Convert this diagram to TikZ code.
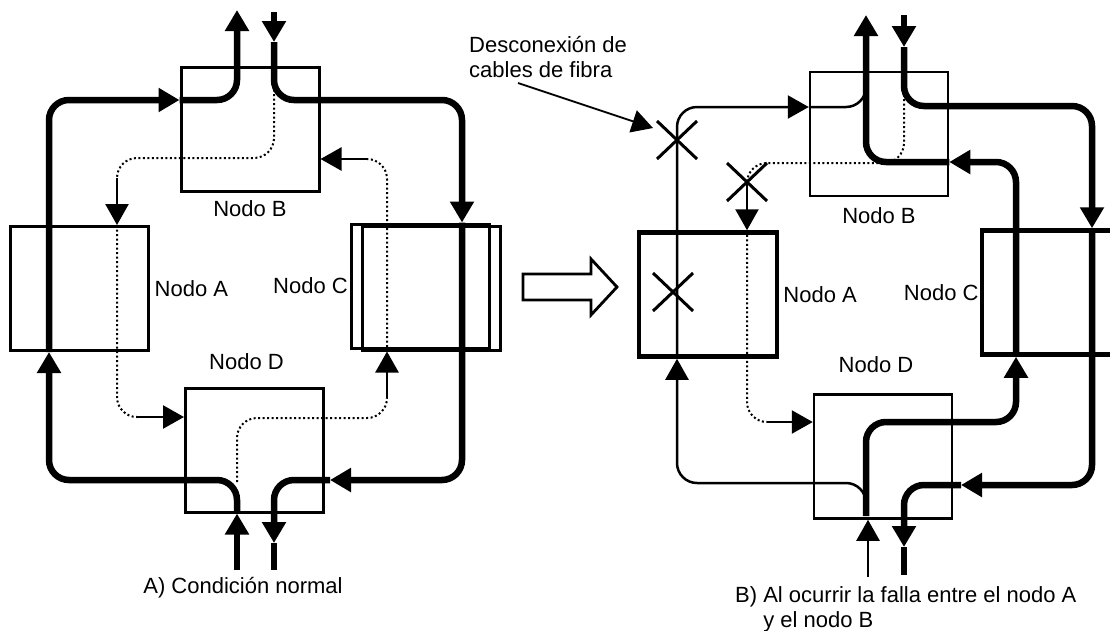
\documentclass[tikz,border=0pt]{standalone}
\usepackage{fontspec}
\setmainfont{Liberation Sans}
\usetikzlibrary{arrows.meta,calc,positioning}

\begin{document}
\begin{tikzpicture}[x=1pt, y=-1pt,
  nodo/.style={draw, line width=3pt, minimum width=138pt, minimum height=124pt, inner sep=0pt},
  rotulo/.style={font=\fontsize{22}{25}\selectfont, inner sep=0pt, align=left},
  fibra/.style={line width=6.5pt, rounded corners=20pt},
  fina/.style={line width=2.5pt, rounded corners=20pt},
  reserva/.style={line width=2pt, dash pattern=on 2pt off 2.5pt, rounded corners=20pt},
  punta/.style={-{Triangle[length=21pt,width=23pt]}},
  corte/.style={line width=3pt}]
\useasboundingbox (0,0) rectangle (1110,630);
\clip (0,0) rectangle (1110,630);

% --- A) condicion normal ---
\node[nodo] (lB) at (250,129) {};
\node[nodo] (lA) at (79,288.5) {};
\node[nodo] (lC) at (420.5,286) {};
\node[nodo] (lC2) at (431.5,288) {};
\node[nodo] (lD) at (254.5,450) {};
\node[rotulo, below=8pt of lB] (tlB) {Nodo B};
\node[rotulo, right=5pt of lA] (tlA) {Nodo A};
\node[rotulo, left=2pt of lC] (tlC) {Nodo C};
\node[rotulo, above=17pt of lD, xshift=-8pt] (tlD) {Nodo D};

% anillo de trabajo
\draw[fibra, punta] (237,570) -- (lD.south -| 237,0);
\draw[fibra, punta] (lD.south -| 237,0) |- (49,480) -- (lA.south -| 49,0);
\draw[fibra, punta] (lA.south -| 49,0) |- (lB.west |- 0,100);
\draw[fibra, punta] (lB.west |- 0,100) -| (237,10);
\draw[fibra, punta] (274,12) -- (274,42);
\draw[fibra, punta] (274,42) |- (462,100) -- (lC.north -| 462,0);
\draw[fibra, punta] (lC.north -| 462,0) |- (330,480);
\draw[fibra, punta] (330,480) -| (274,543);
\draw[fibra] (274,543) -- (274,570);

% anillo de reserva
\draw[reserva] (274,85) |- (117,158) -- (117,178);
\draw[fina, punta] (117,178) -- (lA.north -| 117,0);
\draw[reserva] (lA.north -| 117,0) |- (138,417);
\draw[fina, punta] (138,417) -- (lD.west |- 0,417);
\draw[reserva] (237,482) |- (387,418) -- (387,398);
\draw[fina, punta] (387,398) -- (lC2.south -| 387,0);
\draw[reserva] (lC2.south -| 387,0) |- (367,159);
\draw[fina, punta] (367,159) -- (lB.east |- 0,159);

\node[rotulo, anchor=base] (tNormal) at (243,593) {A) Condición normal};

% --- flecha hueca ---
\draw[line width=2.8pt] (523,274) -- (591,274) -- (591,259) -- (617,287)
  -- (591,315) -- (591,300) -- (523,300) -- cycle;

% --- B) falla entre A y B ---
\node[nodo, line width=2.5pt] (rB) at (879,134) {};
\node[nodo, line width=4.5pt] (rA) at (708,294.5) {};
\node[nodo, line width=4.5pt] (rC) at (1051,292.5) {};
\node[nodo, line width=2.5pt] (rD) at (883,456.5) {};
\node[rotulo, below=10pt of rB] (trB) {Nodo B};
\node[rotulo, right=4pt of rA] (trA) {Nodo A};
\node[rotulo, left=1pt of rC] (trC) {Nodo C};
\node[rotulo, above=20pt of rD, xshift=-7pt] (trD) {Nodo D};

\coordinate (corte1) at (677,140);
\coordinate (corte2) at (747,182);
\coordinate (corte3) at (673,292);

% via cortada
\draw[fina, punta] (868,577) -- (rD.south -| 868,0);
\draw[fina, punta] (866,505) |- (677,483) -- (rA.south -| 677,0);
\draw[fina, punta] (rA.south -| 677,0) |- (rB.west |- 0,107);
\draw[fina] (rB.west |- 0,107) -| (866,80);

% via de reserva activada
\draw[fibra, punta] (866,516) |- (1016,422) -- (rC.south -| 1016,0);
\draw[fibra, punta] (rC.south -| 1016,0) |- (rB.east |- 0,162);
\draw[fibra, punta] (rB.east |- 0,162) -| (866,15);
\draw[fibra, punta] (904,15) -- (904,47);
\draw[fibra, punta] (904,47) |- (1092,106) -- (rC.north -| 1092,0);
\draw[fibra, punta] (rC.north -| 1092,0) |- (961,485);
\draw[fibra, punta] (961,485) -| (904,547);
\draw[fibra] (904,547) -- (904,575);

% reserva que queda
\draw[reserva] (904,90) |- (747,163) -- (corte2);
\draw[fina, punta] (corte2) -- (rA.north -| 747,0);
\draw[reserva] (rA.north -| 747,0) |- (767,422);
\draw[fina, punta] (767,422) -- (rD.west |- 0,422);

\foreach \c in {corte1,corte2,corte3}
  \draw[corte] ($(\c)+(-20,-19)$) -- ($(\c)+(20,19)$) ($(\c)+(-20,19)$) -- ($(\c)+(20,-19)$);

\node[rotulo, anchor=south west] (tCorte) at (469,78) {Desconexión de\\cables de fibra};
\draw[line width=1.8pt, punta] ($(tCorte.south west)+(49,5)$) -- ($(corte1)+(-24,-12)$);

\node[rotulo, anchor=north west] (tFalla) at (735,586) {B) Al ocurrir la falla entre el nodo A\\\phantom{B) }y el nodo B};
\end{tikzpicture}
\end{document}
